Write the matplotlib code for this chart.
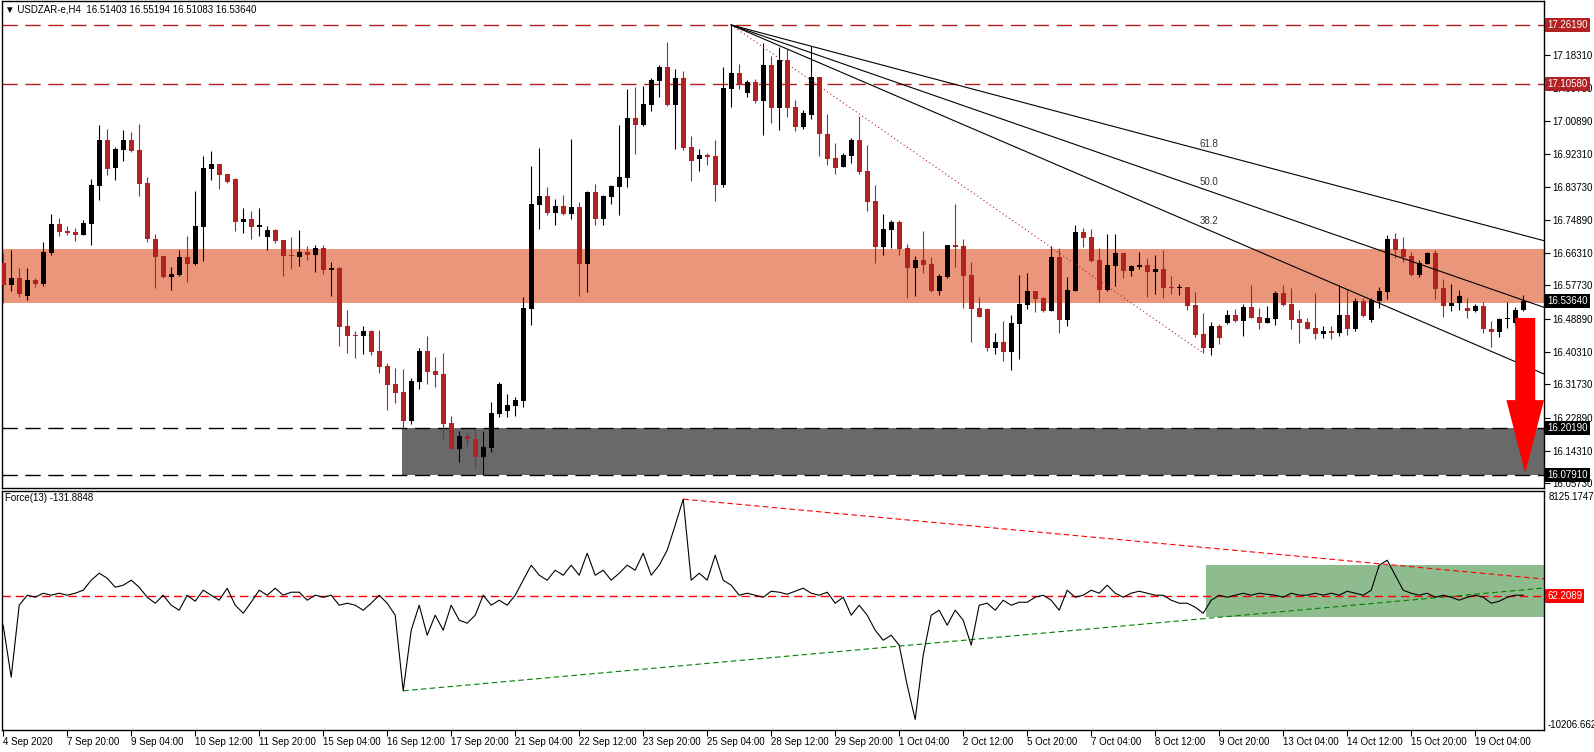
import numpy as np
import matplotlib.pyplot as plt
from matplotlib import font_manager
from matplotlib.patches import Polygon, Rectangle
import matplotlib.transforms as mtransforms

_names = {f.name for f in font_manager.fontManager.ttflist}
if "Liberation Sans Narrow" in _names:
    FONT, FS = "Liberation Sans Narrow", 8.2
else:
    FONT, FS = "Liberation Sans", 7.0
plt.rcParams['font.family'] = [FONT, 'DejaVu Sans']

# --- USDZAR H4 candles ---
opens = [
    16.636, 16.578, 16.597, 16.549, 16.591, 16.580, 16.662, 16.738, 16.720, 16.718,
    16.710, 16.738, 16.838, 16.960, 16.886, 16.933, 16.960, 16.933, 16.846, 16.700,
    16.654, 16.599, 16.605, 16.652, 16.633, 16.731, 16.883, 16.896, 16.870, 16.857,
    16.744, 16.752, 16.731, 16.705, 16.723, 16.697, 16.657, 16.652, 16.665, 16.657,
    16.676, 16.618, 16.623, 16.470, 16.447, 16.444, 16.457, 16.405, 16.365, 16.318,
    16.297, 16.221, 16.323, 16.405, 16.352, 16.344, 16.216, 16.147, 16.181, 16.173,
    16.126, 16.150, 16.239, 16.247, 16.260, 16.273, 16.515, 16.789, 16.812, 16.768,
    16.786, 16.765, 16.783, 16.633, 16.823, 16.752, 16.810, 16.836, 16.859, 17.017,
    16.999, 17.052, 17.115, 17.152, 17.052, 17.122, 16.941, 16.909, 16.920, 16.917,
    16.841, 17.094, 17.136, 17.083, 17.112, 17.062, 17.157, 17.044, 17.170, 17.046,
    16.994, 17.025, 17.125, 16.975, 16.912, 16.888, 16.917, 16.960, 16.878, 16.799,
    16.678, 16.723, 16.744, 16.676, 16.623, 16.644, 16.633, 16.562, 16.599, 16.684,
    16.681, 16.605, 16.518, 16.515, 16.413, 16.428, 16.403, 16.476, 16.526, 16.562,
    16.544, 16.510, 16.652, 16.486, 16.562, 16.718, 16.705, 16.644, 16.565, 16.628,
    16.662, 16.615, 16.626, 16.631, 16.613, 16.621, 16.573, 16.570, 16.573, 16.526,
    16.449, 16.413, 16.470, 16.478, 16.499, 16.483, 16.520, 16.494, 16.478, 16.489,
    16.557, 16.528, 16.489, 16.481, 16.465, 16.449, 16.457, 16.452, 16.499, 16.462,
    16.536, 16.486, 16.536, 16.560, 16.700, 16.673, 16.654, 16.605, 16.633, 16.662,
    16.570, 16.523, 16.531, 16.518, 16.510, 16.523, 16.462, 16.455, 16.489, 16.478,
    16.514,
]
highs = [
    16.662, 16.670, 16.623, 16.623, 16.597, 16.692, 16.765, 16.755, 16.733, 16.728,
    16.749, 16.857, 16.999, 16.988, 16.942, 16.986, 16.981, 17.002, 16.862, 16.712,
    16.654, 16.626, 16.670, 16.707, 16.825, 16.917, 16.930, 16.896, 16.870, 16.859,
    16.781, 16.773, 16.781, 16.733, 16.725, 16.697, 16.705, 16.723, 16.681, 16.684,
    16.684, 16.639, 16.626, 16.513, 16.457, 16.470, 16.460, 16.460, 16.373, 16.360,
    16.358, 16.334, 16.413, 16.444, 16.389, 16.400, 16.234, 16.195, 16.192, 16.200,
    16.195, 16.271, 16.323, 16.292, 16.284, 16.547, 16.891, 16.938, 16.836, 16.804,
    16.815, 16.962, 16.796, 16.825, 16.844, 16.815, 16.841, 16.999, 17.094, 17.099,
    17.102, 17.122, 17.157, 17.217, 17.146, 17.141, 16.970, 16.936, 16.925, 16.960,
    17.152, 17.262, 17.159, 17.117, 17.120, 17.214, 17.180, 17.204, 17.199, 17.065,
    17.038, 17.207, 17.125, 17.028, 16.952, 16.925, 16.965, 17.023, 16.946, 16.841,
    16.765, 16.749, 16.749, 16.686, 16.654, 16.720, 16.652, 16.607, 16.684, 16.791,
    16.700, 16.639, 16.547, 16.518, 16.452, 16.483, 16.499, 16.605, 16.610, 16.562,
    16.547, 16.681, 16.676, 16.599, 16.736, 16.728, 16.725, 16.676, 16.712, 16.712,
    16.662, 16.631, 16.665, 16.649, 16.657, 16.670, 16.602, 16.580, 16.573, 16.560,
    16.505, 16.481, 16.476, 16.513, 16.515, 16.528, 16.578, 16.518, 16.523, 16.562,
    16.578, 16.570, 16.513, 16.491, 16.557, 16.470, 16.470, 16.578, 16.567, 16.544,
    16.544, 16.544, 16.573, 16.710, 16.715, 16.705, 16.665, 16.644, 16.665, 16.670,
    16.594, 16.580, 16.565, 16.544, 16.528, 16.534, 16.483, 16.491, 16.534, 16.520,
    16.552,
]
lows = [
    16.531, 16.562, 16.547, 16.539, 16.573, 16.575, 16.657, 16.707, 16.710, 16.694,
    16.710, 16.684, 16.802, 16.868, 16.854, 16.904, 16.928, 16.812, 16.692, 16.570,
    16.597, 16.565, 16.602, 16.586, 16.631, 16.641, 16.854, 16.830, 16.846, 16.720,
    16.715, 16.700, 16.707, 16.670, 16.689, 16.602, 16.621, 16.628, 16.644, 16.613,
    16.607, 16.549, 16.418, 16.400, 16.387, 16.397, 16.395, 16.347, 16.250, 16.268,
    16.202, 16.213, 16.305, 16.318, 16.310, 16.171, 16.145, 16.113, 16.155, 16.097,
    16.079, 16.139, 16.231, 16.231, 16.234, 16.258, 16.473, 16.725, 16.762, 16.736,
    16.762, 16.752, 16.549, 16.560, 16.736, 16.736, 16.791, 16.762, 16.836, 16.923,
    16.996, 17.036, 17.073, 17.049, 16.936, 16.933, 16.851, 16.878, 16.894, 16.799,
    16.836, 17.046, 17.094, 17.073, 17.057, 16.973, 17.004, 16.986, 17.020, 16.983,
    16.988, 17.015, 16.917, 16.894, 16.870, 16.888, 16.899, 16.870, 16.773, 16.636,
    16.657, 16.676, 16.657, 16.544, 16.549, 16.610, 16.560, 16.552, 16.597, 16.626,
    16.518, 16.428, 16.494, 16.405, 16.397, 16.379, 16.355, 16.384, 16.515, 16.507,
    16.507, 16.510, 16.452, 16.470, 16.562, 16.678, 16.639, 16.534, 16.562, 16.575,
    16.597, 16.602, 16.621, 16.547, 16.554, 16.544, 16.554, 16.552, 16.513, 16.441,
    16.400, 16.395, 16.423, 16.476, 16.481, 16.444, 16.491, 16.462, 16.478, 16.473,
    16.523, 16.462, 16.426, 16.462, 16.436, 16.439, 16.436, 16.444, 16.447, 16.457,
    16.494, 16.481, 16.518, 16.541, 16.649, 16.639, 16.602, 16.599, 16.633, 16.541,
    16.494, 16.510, 16.513, 16.491, 16.507, 16.452, 16.415, 16.441, 16.465, 16.473,
    16.511,
]
closes = [
    16.578, 16.597, 16.554, 16.591, 16.580, 16.665, 16.738, 16.718, 16.715, 16.710,
    16.741, 16.841, 16.960, 16.883, 16.936, 16.960, 16.930, 16.844, 16.700, 16.652,
    16.599, 16.607, 16.652, 16.633, 16.733, 16.886, 16.896, 16.868, 16.849, 16.744,
    16.752, 16.731, 16.736, 16.723, 16.694, 16.654, 16.654, 16.665, 16.657, 16.676,
    16.618, 16.623, 16.468, 16.444, 16.444, 16.457, 16.403, 16.363, 16.316, 16.294,
    16.221, 16.326, 16.405, 16.350, 16.342, 16.213, 16.147, 16.181, 16.173, 16.126,
    16.152, 16.242, 16.318, 16.263, 16.276, 16.518, 16.791, 16.812, 16.768, 16.786,
    16.765, 16.783, 16.633, 16.823, 16.752, 16.812, 16.838, 16.862, 17.017, 16.999,
    17.054, 17.117, 17.152, 17.052, 17.122, 16.938, 16.904, 16.920, 16.915, 16.841,
    17.096, 17.136, 17.107, 17.112, 17.062, 17.157, 17.044, 17.170, 17.044, 16.994,
    17.030, 17.125, 16.975, 16.909, 16.886, 16.920, 16.960, 16.875, 16.796, 16.678,
    16.725, 16.744, 16.673, 16.623, 16.644, 16.631, 16.562, 16.602, 16.684, 16.678,
    16.602, 16.515, 16.494, 16.413, 16.428, 16.403, 16.478, 16.528, 16.562, 16.541,
    16.510, 16.652, 16.486, 16.565, 16.718, 16.702, 16.641, 16.565, 16.631, 16.662,
    16.615, 16.628, 16.631, 16.613, 16.621, 16.570, 16.570, 16.573, 16.523, 16.447,
    16.413, 16.470, 16.439, 16.499, 16.483, 16.520, 16.491, 16.478, 16.491, 16.557,
    16.526, 16.486, 16.478, 16.462, 16.449, 16.457, 16.452, 16.499, 16.462, 16.536,
    16.496, 16.539, 16.562, 16.700, 16.670, 16.652, 16.605, 16.636, 16.662, 16.567,
    16.523, 16.531, 16.549, 16.510, 16.523, 16.462, 16.455, 16.489, 16.491, 16.513,
    16.536,
]

# Force index (13)
force = [
    -2169, -6158, -635, 132, -22, 285, 132, 285, 132, 285,
    515, 1282, 1819, 1436, 745, 899, 1282, 745, -22, -482,
    132, -635, -1019, 132, -328, 515, 132, -252, 669, -635,
    -1249, -400, 515, 132, 669, 132, 362, 362, -252, 132,
    -22, 132, -635, -482, -635, -1019, -482, 132, -482, -1402,
    -7200, -2553, -635, -2936, -1402, -2553, -635, -1786, -2016, -1402,
    132, -635, -252, -635, 132, 1282, 2433, 1666, 1282, 2049,
    1666, 2433, 1666, 3353, 1666, 2049, 1282, 1819, 2433, 2049,
    3353, 1666, 2433, 3583, 5500, 7500, 1282, 1819, 1282, 3200,
    1282, 899, 132, 285, 130, -22, 438, 362, 209, 438,
    669, 285, 132, 362, -482, -22, -1402, -635, -1402, -2553,
    -3319, -2936, -3703, -6771, -9400, -4470, -1402, -1019, -2169, -1019,
    -1786, -3703, -635, -482, -1019, -252, -635, -405, -405, -22,
    132, -252, -1019, 515, -22, 132, 515, 285, 899, 285,
    -22, 285, 438, 285, 132, 132, -252, -482, -482, -789,
    -1249, -252, 132, -22, 132, 285, 132, 285, 200, 132,
    -22, 285, 132, 132, 285, 132, 285, 132, 438, 285,
    132, 515, 2433, 2816, 1666, 515, 285, 132, 285, -22,
    132, -22, -252, -22, 132, -22, -482, -328, -22, 132,
    132,
]

date_labels = ["4 Sep 2020", "7 Sep 20:00", "9 Sep 04:00", "10 Sep 12:00",
               "11 Sep 20:00", "15 Sep 04:00", "16 Sep 12:00", "17 Sep 20:00",
               "21 Sep 04:00", "22 Sep 12:00", "23 Sep 20:00", "25 Sep 04:00",
               "28 Sep 12:00", "29 Sep 20:00", "1 Oct 04:00", "2 Oct 12:00",
               "5 Oct 20:00", "7 Oct 04:00", "8 Oct 12:00", "9 Oct 20:00",
               "13 Oct 04:00", "14 Oct 12:00", "15 Oct 20:00", "19 Oct 04:00"]
price_ticks = [17.18310, 17.09730, 17.00890, 16.92310, 16.83730, 16.74890,
               16.66310, 16.57730, 16.48890, 16.40310, 16.31730, 16.22890,
               16.14310, 16.05730]

resist_levels = [17.26190, 17.10580]
support_levels = [16.20190, 16.07910]
last_price = 16.53640
zone_orange = (16.532, 16.673)
force_level = 62.2089
force_max, force_min = 8125.1747, -10206.662
green_box = (150.3, -1540, 2449)   # start bar, bottom, top

RED = "#B22222"
n = len(opens)
x = np.arange(n)
X_MAX = 192.6

W, H = 1594, 752
fig = plt.figure(figsize=(W / 100, H / 100), dpi=100)
ax1 = fig.add_axes([2 / W, 1 - 488 / H, 1542 / W, 487 / H])
ax2 = fig.add_axes([2 / W, 1 - 730 / H, 1542 / W, 239 / H])

for ax in (ax1, ax2):
    ax.set_xlim(-0.15, X_MAX)
    for s in ax.spines.values():
        s.set_linewidth(1.0)
        s.set_color("black")
    ax.yaxis.tick_right()
    ax.tick_params(axis="y", direction="out", length=4, width=0.8,
                   labelsize=FS, pad=2)

# ---- price panel ----
ax1.set_ylim(16.045, 17.325)
ax1.axhspan(zone_orange[0], zone_orange[1], color="#E9967A", zorder=0, lw=0)
ax1.add_patch(Rectangle((49.9, support_levels[1]), X_MAX - 49.9,
                        support_levels[0] - support_levels[1],
                        color="#696969", lw=0, zorder=0))
for lv in resist_levels:
    ax1.axhline(lv, color=RED, lw=1, dashes=(11, 5.5), zorder=1)
for lv in support_levels:
    ax1.axhline(lv, color="black", lw=1, dashes=(11, 5.5), zorder=1)

o = np.array(opens); c = np.array(closes)
hi = np.array(highs); lo = np.array(lows)
cols = np.where(c > o, "black", RED)
ax1.vlines(x, lo, hi, colors=cols, lw=0.8, zorder=3)
body = np.maximum(np.abs(c - o), 0.0022)
ax1.bar(x, body, bottom=np.minimum(o, c), width=0.62, color=cols,
        lw=0, zorder=4)

# Fibonacci fan from the swing high to the swing low
p0x, p0y = 91, highs[91]
p1x, p1y = 150, lows[150]
ax1.plot([p0x, p1x], [p0y, p1y], color=RED, lw=0.8,
         linestyle=(0, (1, 2.5)), zorder=5)
for lvl, txt in [(0.382, "38.2"), (0.5, "50.0"), (0.618, "61.8")]:
    end_y = p0y - (1 - lvl) * (p0y - p1y)
    slope = (end_y - p0y) / (p1x - p0x)
    ax1.plot([p0x, X_MAX], [p0y, p0y + slope * (X_MAX - p0x)],
             color="black", lw=0.8, zorder=5)
    ax1.text(p1x - 0.4, end_y + 0.004, txt, fontsize=FS, color="#333333",
             ha="left", va="bottom", zorder=6)

# big red arrow
arrow = Polygon([[189.0, 16.492], [191.5, 16.492], [191.5, 16.276],
                 [192.6, 16.276], [190.25, 16.084], [187.9, 16.276],
                 [189.0, 16.276]], closed=True, color="#FF0000", lw=0,
                zorder=7, clip_on=False)
ax1.add_patch(arrow)

ax1.set_yticks(price_ticks)
ax1.set_yticklabels([f"{t:.5f}" for t in price_ticks])
ax1.set_xticks([])

trans1 = mtransforms.blended_transform_factory(ax1.transAxes, ax1.transData)
for lv, fc in [(resist_levels[0], RED), (resist_levels[1], RED),
               (last_price, "black"), (support_levels[0], "black"),
               (support_levels[1], "black")]:
    ax1.text(1.0022, lv, f"{lv:.5f}", transform=trans1, fontsize=FS,
             color="white", va="center", ha="left", zorder=10,
             bbox=dict(boxstyle="square,pad=0.2", fc=fc, ec="none"))

fig.text(5 / W, 1 - 9 / H, "\u25bc USDZAR-e,H4  16.51403 16.55194 16.51083 16.53640",
         fontsize=FS, va="center", ha="left")

# ---- force panel ----
ax2.set_ylim(force_min, force_max)
ax2.add_patch(Rectangle((green_box[0], green_box[1]), X_MAX - green_box[0],
                        green_box[2] - green_box[1],
                        color="#8FBC8F", lw=0, zorder=0))
ax2.axhline(force_level, color="#FF0000", lw=1, dashes=(6, 3.5), zorder=1)
ax2.plot([85, X_MAX], [force[85], 1375], color="#FF0000", lw=0.8,
         dashes=(5, 3), zorder=2)
ax2.plot([50, X_MAX], [force[50], 685], color="#008000", lw=0.8,
         dashes=(5, 3), zorder=2)
ax2.plot(x, force, color="black", lw=0.8, zorder=3)

ax2.set_yticks([])
trans2 = mtransforms.blended_transform_factory(ax2.transAxes, ax2.transData)
ax2.text(1.0022, force_level, f"{force_level:.4f}", transform=trans2,
         fontsize=FS, color="white", va="center", ha="left",
         bbox=dict(boxstyle="square,pad=0.2", fc="#FF0000", ec="none"))
ax2.text(1.003, 0.975, "8125.1747", transform=ax2.transAxes, fontsize=FS,
         va="center", ha="left")
ax2.text(1.002, 0.02, "-10206.662", transform=ax2.transAxes, fontsize=FS,
         va="center", ha="left")
ax2.text(0.002, 0.99, "Force(13) -131.8848", transform=ax2.transAxes,
         fontsize=FS, va="top", ha="left")

ax2.set_xticks(np.arange(0, 8 * len(date_labels), 8))
ax2.set_xticklabels(date_labels, ha="left", fontsize=FS)
ax2.tick_params(axis="x", direction="out", length=4, width=0.8, pad=1)

fig.savefig("out.png", dpi=100)
